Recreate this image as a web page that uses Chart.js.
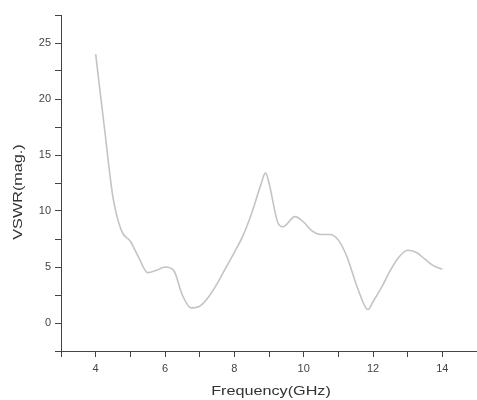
<!DOCTYPE html>
<html>
<head>
<meta charset="utf-8">
<script src="https://cdn.jsdelivr.net/npm/chart.js@4"></script>
<style>
  html, body { margin: 0; padding: 0; background: #fff; }
  #wrap { width: 477px; height: 400px; position: relative; }
</style>
</head>
<body>
<div id="wrap"><canvas id="vswrChart"></canvas></div>
<script>
// frequency (GHz) and VSWR
const freq = [4.0, 4.25, 4.5, 4.75, 5.0, 5.25, 5.5, 5.75, 6.0, 6.25, 6.5, 6.75, 7.0, 7.25, 7.5, 7.75,
              8.0, 8.25, 8.5, 8.75, 8.9, 9.0, 9.25, 9.4, 9.75, 10.0, 10.25, 10.5, 10.75, 11.0, 11.25,
              11.5, 11.75, 11.85, 12.0, 12.25, 12.5, 12.75, 13.0, 13.25, 13.5, 13.75, 14.0];
const vswr = [24.0, 17.5, 11.2, 8.2, 7.3, 5.8, 4.5, 4.7, 5.0, 4.7, 2.5, 1.35, 1.5, 2.3, 3.5, 4.9,
              6.3, 7.8, 9.8, 12.2, 13.4, 12.5, 9.0, 8.6, 9.5, 9.0, 8.2, 7.9, 7.9, 7.4, 5.9,
              3.6, 1.6, 1.2, 1.9, 3.2, 4.7, 5.9, 6.5, 6.3, 5.7, 5.1, 4.8];
const xLabels = [4, 6, 8, 10, 12, 14];
const yLabels = [0, 5, 10, 15, 20, 25];

const axisColor = '#444';

// axis titles, drawn a little wide like the original
const titlePlugin = {
    id: 'axisTitles',
    afterDraw(chart) {
        const c = chart.ctx;
        c.save();
        c.fillStyle = '#333';
        c.font = '12px "Liberation Sans", Arial, sans-serif';
        c.textAlign = 'center';
        c.textBaseline = 'middle';
        c.save();
        c.translate(271, 392);
        c.scale(1.35, 1);
        c.fillText('Frequency(GHz)', 0, 0);
        c.restore();
        c.save();
        c.translate(19, 192);
        c.rotate(-Math.PI / 2);
        c.scale(1.35, 1);
        c.fillText('VSWR(mag.)', 0, 0);
        c.restore();
        c.restore();
    }
};

new Chart(document.getElementById('vswrChart').getContext('2d'), {
    type: 'line',
    data: {
        datasets: [{
            data: freq.map((f, i) => ({ x: f, y: vswr[i] })),
            borderColor: '#c4c4c4',
            borderWidth: 1.6,
            pointRadius: 0,
            cubicInterpolationMode: 'monotone',
            fill: false
        }]
    },
    options: {
        responsive: true,
        maintainAspectRatio: false,
        animation: false,
        layout: { padding: { top: 15, right: 0, left: 0, bottom: 0 } },
        plugins: { legend: { display: false }, tooltip: { enabled: false } },
        scales: {
            x: {
                type: 'linear',
                min: 3,
                max: 15,
                afterFit: function (s) {
                    s.height = 49;
                    s.paddingLeft = 0;
                    s.paddingRight = 0;
                },
                border: { color: axisColor, width: 1 },
                grid: { drawOnChartArea: false, tickLength: 6, tickColor: axisColor },
                ticks: {
                    stepSize: 1,
                    padding: 5,
                    color: '#444',
                    font: { family: '"Liberation Sans", Arial, sans-serif', size: 11 },
                    maxRotation: 0,
                    autoSkip: false,
                    callback: v => xLabels.includes(v) ? String(v) : ''
                }
            },
            y: {
                min: -2.5,
                max: 27.5,
                afterFit: function (s) {
                    s.width = 61;
                    s.paddingTop = 0;
                    s.paddingBottom = 0;
                },
                border: { color: axisColor, width: 1 },
                grid: { drawOnChartArea: false, tickLength: 6, tickColor: axisColor },
                ticks: {
                    stepSize: 2.5,
                    padding: 4,
                    color: '#444',
                    font: { family: '"Liberation Sans", Arial, sans-serif', size: 11 },
                    autoSkip: false,
                    callback: v => yLabels.includes(v) ? String(v) : ''
                }
            }
        }
    },
    plugins: [titlePlugin]
});
</script>
</body>
</html>
